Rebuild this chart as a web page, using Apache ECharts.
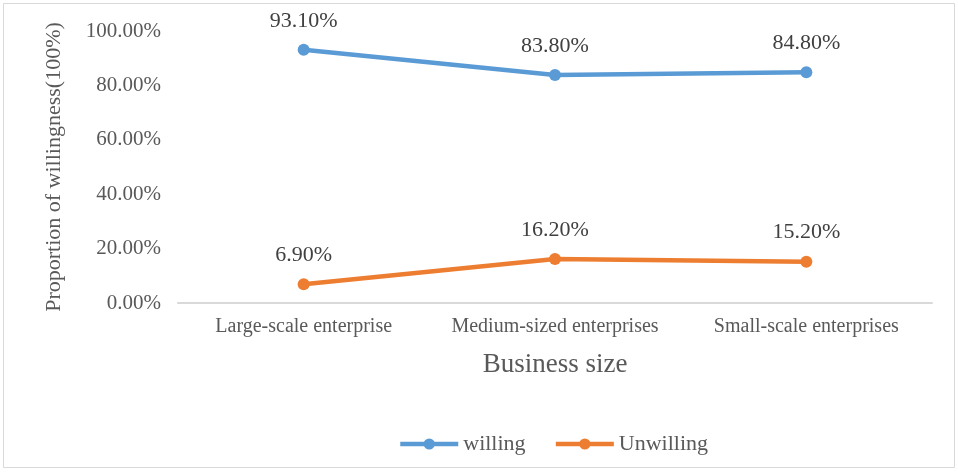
<!DOCTYPE html>
<html lang="en">
<head>
    <meta charset="UTF-8">
    <title>Willingness by business size</title>
    <script src="https://cdn.jsdelivr.net/npm/echarts@6/dist/echarts.min.js"></script>
    <style>
        body { margin: 0; background: #fff; }
    </style>
</head>
<body>
<div id="main" style="width: 958px;height:472px;"></div>
<script>
    let categories = ['Large-scale enterprise', 'Medium-sized enterprises', 'Small-scale enterprises'];
    let willing = [93.1, 83.8, 84.8];
    let unwilling = [6.9, 16.2, 15.2];

    let chart = echarts.init(document.getElementById('main'));
    let font = '"Liberation Serif", "Times New Roman", serif';

    let labelOpt = {
        show: true,
        position: 'top',
        distance: 12,
        fontFamily: font,
        fontSize: 22,
        color: '#404040',
        formatter: function (p) { return p.value.toFixed(2) + '%'; }
    };

    let option = {
        textStyle: { fontFamily: font },
        graphic: [{
            type: 'rect',
            shape: { x: 3.5, y: 3.5, width: 951, height: 464 },
            style: { fill: 'none', stroke: '#d9d9d9', lineWidth: 1 },
            silent: true
        }],
        grid: { left: 178, right: 26, top: 31, bottom: 169 },
        legend: {
            top: 428,
            left: 393,
            itemWidth: 58,
            itemHeight: 14,
            itemGap: 28,
            lineStyle: { width: 4.5 },
            textStyle: { fontFamily: font, fontSize: 22, color: '#595959' },
            data: ['willing', 'Unwilling']
        },
        xAxis: {
            type: 'category',
            data: categories,
            name: 'Business size',
            nameLocation: 'middle',
            nameGap: 48,
            nameTextStyle: { fontFamily: font, fontSize: 27, color: '#595959' },
            axisLine: { lineStyle: { color: '#d9d9d9', width: 2 } },
            axisTick: { show: false },
            axisLabel: { interval: 0, fontFamily: font, fontSize: 20, color: '#595959', margin: 14 }
        },
        yAxis: {
            type: 'value',
            min: 0,
            max: 100,
            interval: 20,
            name: 'Proportion of willingness(100%)',
            nameLocation: 'middle',
            nameGap: 113,
            nameTextStyle: { fontFamily: font, fontSize: 22, color: '#595959' },
            axisLine: { show: false },
            axisTick: { show: false },
            splitLine: { show: false },
            axisLabel: {
                fontFamily: font, fontSize: 21, color: '#595959', margin: 17,
                formatter: function (v) { return v.toFixed(2) + '%'; }
            }
        },
        series: [
            {
                name: 'willing',
                type: 'line',
                data: willing,
                symbol: 'circle',
                symbolSize: 12,
                color: '#5b9bd5',
                lineStyle: { width: 4.5, color: '#5b9bd5' },
                label: labelOpt
            },
            {
                name: 'Unwilling',
                type: 'line',
                data: unwilling,
                symbol: 'circle',
                symbolSize: 12,
                color: '#ed7d31',
                lineStyle: { width: 4.5, color: '#ed7d31' },
                label: labelOpt
            }
        ]
    };
    chart.setOption(option);
</script>
</body>
</html>
